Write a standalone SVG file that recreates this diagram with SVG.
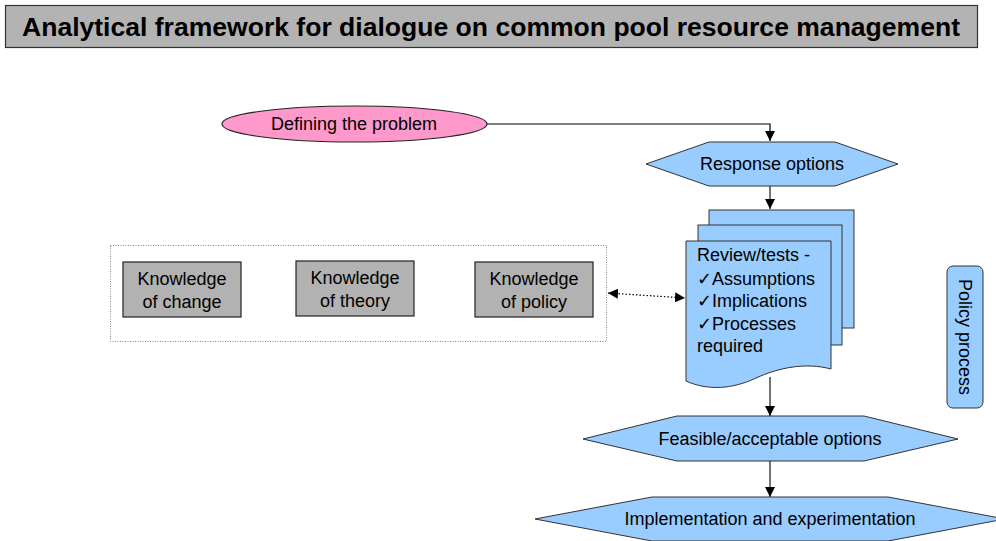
<svg xmlns="http://www.w3.org/2000/svg" width="996" height="541" viewBox="0 0 996 541">
  <style>
    text { font-family: "Liberation Sans", Arial, sans-serif; fill: #000; }
    .lbl { font-size: 18px; }
    .mid { text-anchor: middle; dominant-baseline: central; }
    .blue { fill: #99CCFF; stroke: #333; stroke-width: 1; }
    .gray { fill: #B2B2B2; stroke: #222; stroke-width: 1.2; }
    .conn { fill: none; stroke: #000; stroke-width: 1.2; }
    .conn-g { fill: none; stroke: #444; stroke-width: 1.5; }
  </style>
  <defs>
    <marker id="arrow" viewBox="0 0 10 10" refX="10" refY="5" markerWidth="10" markerHeight="10" markerUnits="userSpaceOnUse" orient="auto">
      <path d="M0,0 L10,5 L0,10 Z" fill="#000"/>
    </marker>
    <marker id="arrow-start" viewBox="0 0 10 10" refX="0" refY="5" markerWidth="10" markerHeight="10" markerUnits="userSpaceOnUse" orient="auto">
      <path d="M10,0 L0,5 L10,10 Z" fill="#000"/>
    </marker>
  </defs>

  <rect width="996" height="541" fill="#fff"/>

  <!-- Title banner -->
  <g id="title">
    <rect x="5.5" y="5.5" width="972" height="42" fill="#B3B3B3" stroke="#333" stroke-width="1.2"/>
    <text x="491" y="27" class="mid" font-size="26" font-weight="bold" textLength="938" lengthAdjust="spacingAndGlyphs">Analytical framework for dialogue on common pool resource management</text>
  </g>

  <!-- Connectors -->
  <g id="connectors">
    <path class="conn" d="M487,124 H770 V141" marker-end="url(#arrow)"/>
    <path class="conn-g" d="M770,186 V209" marker-end="url(#arrow)"/>
    <path class="conn-g" d="M770,377 V416" marker-end="url(#arrow)"/>
    <path class="conn-g" d="M770,461 V497" marker-end="url(#arrow)"/>
    <path fill="none" stroke="#000" stroke-width="1.2" stroke-dasharray="1.5,2" d="M608,293 L685,298" marker-start="url(#arrow-start)" marker-end="url(#arrow)"/>
  </g>

  <!-- Start ellipse -->
  <g id="defining-problem">
    <ellipse cx="354.5" cy="124" rx="132.5" ry="18" fill="#FF99CC" stroke="#222" stroke-width="1.2"/>
    <text x="354" y="124" class="lbl mid">Defining the problem</text>
  </g>

  <!-- Response options -->
  <g id="response-options">
    <polygon class="blue" points="646,164 709,142 835,142 898,164 835,186 709,186"/>
    <text x="772" y="164" class="lbl mid">Response options</text>
  </g>

  <!-- Multi-document review stack -->
  <g id="review-tests">
    <rect class="blue" x="709" y="210" width="145" height="118"/>
    <rect class="blue" x="698" y="225" width="144" height="120"/>
    <path class="blue" d="M686,241 H831 V369 C805,362 778,368 756,378 C733,389 708,391 686,381 Z"/>
    <text class="lbl" x="697" y="261">Review/tests -</text>
    <text class="lbl" x="697" y="285">✓Assumptions</text>
    <text class="lbl" x="697" y="307">✓Implications</text>
    <text class="lbl" x="697" y="330">✓Processes</text>
    <text class="lbl" x="697" y="352">required</text>
  </g>

  <!-- Knowledge domains -->
  <g id="knowledge">
    <rect x="110.5" y="245.5" width="496" height="96" fill="none" stroke="#888" stroke-width="1" stroke-dasharray="1,1.5"/>
  </g>
  <g id="knowledge-change">
    <rect class="gray" x="123" y="262" width="118" height="55"/>
    <text x="182" y="279" class="lbl mid">Knowledge</text>
    <text x="182" y="302" class="lbl mid">of change</text>
  </g>
  <g id="knowledge-theory">
    <rect class="gray" x="296" y="261" width="118" height="55"/>
    <text x="355" y="278" class="lbl mid">Knowledge</text>
    <text x="355" y="301" class="lbl mid">of theory</text>
  </g>
  <g id="knowledge-policy">
    <rect class="gray" x="475" y="262" width="118" height="55"/>
    <text x="534" y="279" class="lbl mid">Knowledge</text>
    <text x="534" y="302" class="lbl mid">of policy</text>
  </g>

  <!-- Policy process side label -->
  <g id="policy-process">
    <rect class="blue" x="947" y="266" width="36" height="142" rx="6" ry="6"/>
    <text class="lbl mid" transform="translate(965,337) rotate(90)">Policy process</text>
  </g>

  <!-- Feasible options -->
  <g id="feasible-options">
    <polygon class="blue" points="583,439 677,416 864,416 958,439 864,461 677,461"/>
    <text x="770" y="439" class="lbl mid">Feasible/acceptable options</text>
  </g>

  <!-- Implementation -->
  <g id="implementation">
    <polygon class="blue" points="535,519 652,497 888,497 1005,519 888,541 652,541"/>
    <text x="770" y="519" class="lbl mid">Implementation and experimentation</text>
  </g>
</svg>
